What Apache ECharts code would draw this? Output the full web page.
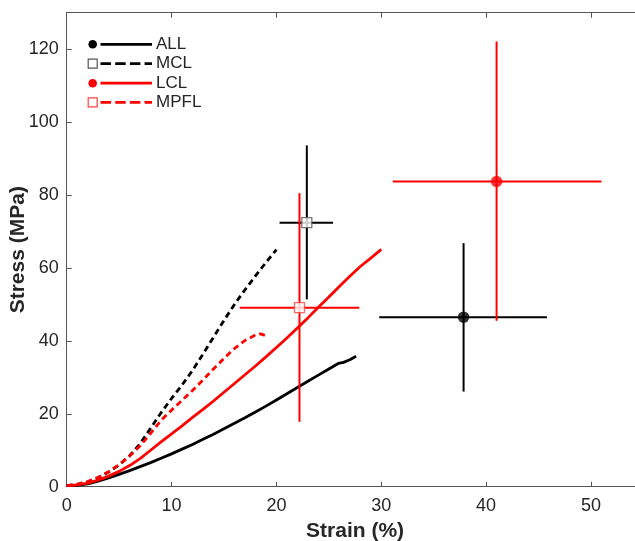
<!DOCTYPE html>
<html>
<head>
<meta charset="utf-8">
<script src="https://cdn.jsdelivr.net/npm/echarts@6/dist/echarts.min.js"></script>
<style>
html,body{margin:0;padding:0;background:#fff;}
#chart{width:635px;height:541px;}
</style>
</head>
<body>
<div id="chart"></div>
<script>
// ---- Data ----
const xTicks = [0, 10, 20, 30, 40, 50];
const yTicks = [0, 20, 40, 60, 80, 100, 120];
const xLabel = 'Strain (%)';
const yLabel = 'Stress (MPa)';

const ligaments = ['ALL', 'MCL', 'LCL', 'MPFL'];

// mean stress-strain curves  [strain %, stress MPa]
const allCurve = [[0,0.3],[1,0.4],[2,0.8],[3,1.5],[4,2.4],[5,3.4],[6,4.4],[7,5.5],[8,6.6],[9,7.8],[10,9.0],[11,10.3],[12,11.6],[13,13.0],[14,14.4],[15,15.9],[16,17.4],[17,18.9],[18,20.5],[19,22.1],[20,23.8],[21,25.5],[22,27.2],[23,28.9],[24,30.6],[25,32.3],[25.9,33.8],[26.4,34.1],[27,34.8],[27.6,35.8]];
const mclCurve = [[0,0.3],[1,0.6],[2,1.3],[3,2.4],[4,4.0],[5,6.0],[6,8.5],[7,11.8],[8,16.0],[9,20.3],[10,24.2],[11,27.9],[12,31.9],[13,36.4],[14,41.0],[15,45.6],[16,50.0],[17,54.0],[18,57.8],[19,61.5],[20,65.0]];
const lclCurve = [[0,0.3],[1,0.5],[2,1.0],[3,1.8],[4,2.9],[5,4.2],[6,5.8],[7,7.7],[8,10.0],[9,12.3],[10,14.5],[11,16.7],[12,19.0],[13,21.2],[14,23.5],[15,25.9],[16,28.3],[17,30.7],[18,33.1],[19,35.6],[20,38.2],[21,40.8],[22,43.5],[23,46.3],[24,49.2],[25,52.0],[26,54.9],[27,57.7],[28,60.4],[29,62.7],[30,65.1]];
const mpflCurve = [[0,0.3],[1,0.7],[2,1.4],[3,2.6],[4,4.1],[5,6.0],[6,8.4],[7,11.2],[8,14.6],[9,18.2],[10,21.0],[11,23.7],[12,26.4],[13,29.3],[14,32.3],[15,35.2],[16,37.9],[17,40.1],[18,41.6],[18.5,41.9],[19,41.4]];

// failure points: mean strain/stress with error bar ends
const meanStrain = [37.85, 22.9, 41.0, 22.2];
const strainLow  = [29.8, 20.3, 31.1, 16.5];
const strainHigh = [45.8, 25.4, 51.0, 27.9];
const meanStress = [46.5, 72.4, 83.7, 49.1];
const stressLow  = [26.1, 51.4, 45.5, 17.8];
const stressHigh = [66.8, 93.6, 122.1, 80.5];

// ---- Styling ----
const FONT = '"Liberation Sans", Arial, Helvetica, sans-serif';
const RED = '#ff0000';
const BLACK = '#000000';
const colors = [BLACK, BLACK, RED, RED];
const dashed = [false, true, false, true];
const filled = [true, false, true, false];
const markerBorder = ['#000000', '#555555', '#ff0000', '#ff4040'];
const curves = [allCurve, mclCurve, lclCurve, mpflCurve];

const chart = echarts.init(document.getElementById('chart'), null, {renderer: 'canvas'});

const series = [];
curves.forEach((c, i) => {
  series.push({
    name: ligaments[i] + ' curve',
    type: 'line',
    data: c,
    showSymbol: false,
    symbol: 'none',
    smooth: false,
    lineStyle: {color: colors[i], width: 2.8, type: dashed[i] ? [6, 4] : 'solid', cap: 'butt'},
    z: 2,
    silent: true
  });
});

ligaments.forEach((name, i) => {
  series.push({
    name: name + ' error',
    type: 'custom',
    data: [[meanStrain[i], meanStress[i], strainLow[i], strainHigh[i], stressLow[i], stressHigh[i]]],
    encode: {x: [0, 2, 3], y: [1, 4, 5]},
    z: 3,
    silent: true,
    renderItem: function (params, api) {
      const l = api.coord([api.value(2), api.value(1)]);
      const r = api.coord([api.value(3), api.value(1)]);
      const b = api.coord([api.value(0), api.value(4)]);
      const t = api.coord([api.value(0), api.value(5)]);
      const st = {stroke: colors[i], lineWidth: 2};
      return {
        type: 'group',
        children: [
          {type: 'line', shape: {x1: l[0], y1: l[1], x2: r[0], y2: r[1]}, style: st},
          {type: 'line', shape: {x1: b[0], y1: b[1], x2: t[0], y2: t[1]}, style: st}
        ]
      };
    }
  });
});

ligaments.forEach((name, i) => {
  series.push({
    name: name + ' mean',
    type: 'scatter',
    data: [[meanStrain[i], meanStress[i]]],
    symbol: filled[i] ? 'circle' : 'rect',
    symbolSize: filled[i] ? 11.5 : 10,
    itemStyle: filled[i]
      ? {color: colors[i]}
      : {color: '#ffffff', borderColor: markerBorder[i], borderWidth: 1.3},
    z: 4,
    silent: true
  });
});

// legend drawn as graphic elements (marker + line sample + text)
const legendGraphics = [];
const legendRows = [44.3, 63.7, 83.2, 102.3];
ligaments.forEach((name, i) => {
  const y = legendRows[i];
  if (filled[i]) {
    legendGraphics.push({type: 'circle', shape: {cx: 92.7, cy: y, r: 4.3}, style: {fill: colors[i]}});
  } else {
    legendGraphics.push({type: 'rect', shape: {x: 88.2, y: y - 4.5, width: 9, height: 9}, style: {fill: '#fff', stroke: markerBorder[i], lineWidth: 1.2}});
  }
  legendGraphics.push({
    type: 'line',
    shape: {x1: 100.5, y1: y, x2: 152, y2: y},
    style: {stroke: colors[i], lineWidth: 2.8, lineDash: dashed[i] ? [10.5, 4.2] : null}
  });
  legendGraphics.push({
    type: 'text',
    x: 156, y: y,
    style: {text: name, fill: '#262626', font: '17px ' + FONT, textVerticalAlign: 'middle', textAlign: 'left'}
  });
});

const axisLineStyle = {color: '#555555', width: 1};

const option = {
  animation: false,
  backgroundColor: '#ffffff',
  textStyle: {fontFamily: FONT},
  grid: {left: 66.7, top: 12.7, right: -8.4, bottom: 54.3, containLabel: false, outerBoundsMode: 'none'},
  xAxis: [
    {
      type: 'value', min: xTicks[0], max: 55, interval: xTicks[1] - xTicks[0],
      position: 'bottom',
      name: xLabel, nameLocation: 'middle', nameGap: 34, nameMoveOverlap: false,
      nameTextStyle: {fontSize: 21, fontWeight: 'bold', color: '#262626', fontFamily: FONT},
      axisLine: {show: true, onZero: false, lineStyle: axisLineStyle},
      axisTick: {show: true, inside: true, length: 5, lineStyle: axisLineStyle},
      axisLabel: {fontSize: 18, color: '#262626', margin: 10, fontFamily: FONT, showMaxLabel: false,
        formatter: v => (xTicks.indexOf(v) >= 0 ? String(v) : '')},
      splitLine: {show: false}
    },
    {
      type: 'value', min: xTicks[0], max: 55, interval: xTicks[1] - xTicks[0],
      position: 'top',
      axisLine: {show: true, onZero: false, lineStyle: axisLineStyle},
      axisTick: {show: true, inside: true, length: 5, lineStyle: axisLineStyle},
      axisLabel: {show: false},
      splitLine: {show: false}
    }
  ],
  yAxis: [
    {
      type: 'value', min: yTicks[0], max: 130, interval: yTicks[1] - yTicks[0],
      position: 'left',
      name: yLabel, nameLocation: 'middle', nameGap: 38, nameMoveOverlap: false,
      nameTextStyle: {fontSize: 21, fontWeight: 'bold', color: '#262626', fontFamily: FONT},
      axisLine: {show: true, onZero: false, lineStyle: axisLineStyle},
      axisTick: {show: true, inside: true, length: 5, lineStyle: axisLineStyle},
      axisLabel: {fontSize: 18, color: '#262626', margin: 8, fontFamily: FONT, showMaxLabel: false,
        formatter: v => (yTicks.indexOf(v) >= 0 ? String(v) : '')},
      splitLine: {show: false}
    }
  ],
  graphic: legendGraphics,
  series: series
};

chart.setOption(option);
</script>
</body>
</html>
